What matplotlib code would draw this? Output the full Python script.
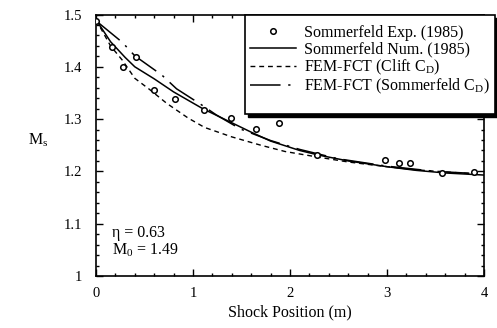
import matplotlib as mpl
mpl.use('Agg')
import matplotlib.pyplot as plt
from matplotlib.patches import Rectangle
from matplotlib.ticker import MultipleLocator

# Sommerfeld experiment (1985)
exp_x = [0.0, 0.16, 0.28, 0.41, 0.60, 0.81, 1.11, 1.39, 1.65, 1.89,
         2.28, 2.98, 3.12, 3.24, 3.57, 3.90]
exp_y = [1.487, 1.438, 1.399, 1.418, 1.356, 1.338, 1.317, 1.303, 1.282, 1.292,
         1.231, 1.222, 1.217, 1.217, 1.196, 1.198]

# Sommerfeld numerical (1985)
num_x = [0.0, 0.15, 0.3, 0.4, 0.6, 0.8, 1.1, 1.4, 1.6, 1.8, 2.1, 2.3,
         2.6, 3.0, 3.3, 3.6, 4.0]
num_y = [1.49, 1.448, 1.418, 1.400, 1.377, 1.352, 1.320, 1.293, 1.275, 1.258,
         1.240, 1.231, 1.220, 1.209, 1.202, 1.197, 1.193]

# FEM-FCT, Clift drag
clift_x = [0.0, 0.15, 0.27, 0.4, 0.55, 0.73, 0.95, 1.12, 1.4, 1.7, 1.95,
           2.3, 2.6, 3.0, 3.3, 3.6, 3.85]
clift_y = [1.49, 1.44, 1.413, 1.378, 1.357, 1.330, 1.302, 1.284, 1.266, 1.250,
           1.238, 1.227, 1.218, 1.209, 1.203, 1.199, 1.196]

# FEM-FCT, Sommerfeld drag
somm_x = [0.0, 0.27, 0.4, 0.68, 0.83, 1.09, 1.24, 1.49, 1.8, 2.1, 2.5,
          3.0, 3.5, 3.9]
somm_y = [1.488, 1.447, 1.421, 1.384, 1.358, 1.327, 1.308, 1.281, 1.259, 1.242,
          1.224, 1.210, 1.200, 1.196]

labels = ['Sommerfeld Exp. (1985)', 'Sommerfeld Num. (1985)',
          r'FEM-FCT (Clift C$_\mathregular{D}$)',
          r'FEM-FCT (Sommerfeld C$_\mathregular{D}$)']

plt.rcParams['font.family'] = ['Liberation Serif', 'DejaVu Serif']
plt.rcParams['mathtext.fontset'] = 'custom'
plt.rcParams['mathtext.rm'] = 'Liberation Serif'

W, H = 497, 328
fig = plt.figure(figsize=(W / 100, H / 100), dpi=100)
ax = fig.add_axes([96 / W, 1 - 276 / H, 388 / W, 261.5 / H])

ax.plot(exp_x, exp_y, 'o', ms=4, mfc='white', mec='k', mew=1.1,
        label=labels[0], zorder=4)
ax.plot(num_x, num_y, 'k-', lw=1.1, label=labels[1])
ax.plot(clift_x, clift_y, 'k', lw=1.0, dashes=(3.5, 2.8), label=labels[2])
ax.plot(somm_x, somm_y, 'k', lw=1.1, dashes=(20, 5, 1.5, 5), label=labels[3])

ax.set_xlim(0, 4)
ax.set_ylim(1, 1.5)
ax.set_xticks([0, 1, 2, 3, 4])
ax.set_yticks([1, 1.1, 1.2, 1.3, 1.4, 1.5])
ax.set_yticklabels(['1', '1.1', '1.2', '1.3', '1.4', '1.5'])
ax.xaxis.set_minor_locator(MultipleLocator(0.2))
ax.yaxis.set_minor_locator(MultipleLocator(0.02))
ax.tick_params(which='both', direction='in', top=True, right=True,
               labelsize=10.5, width=1)
ax.tick_params(which='major', length=5)
ax.tick_params(which='minor', length=2.5)
ax.tick_params(axis='x', pad=8)
ax.tick_params(axis='y', pad=10)
for s in ax.spines.values():
    s.set_linewidth(1.2)

ax.set_xlabel('Shock Position (m)', fontsize=11.5, labelpad=3)
fig.text(38 / W, 1 - 140 / H, r'M$_\mathregular{s}$', fontsize=11.5,
         ha='center', va='center')

ax.text(0.17, 1.097, 'η = 0.63\nM$_\\mathregular{0}$ = 1.49', fontsize=11.5,
        va='top', ha='left', linespacing=1.0)

# legend box with a solid drop shadow
bx0, by0, bx1, by1 = 245, 15, 495, 114
shadow = Rectangle((bx0 / W + 3 / W, 1 - by1 / H - 3 / H),
                   (bx1 - bx0) / W, (by1 - by0) / H,
                   transform=fig.transFigure, facecolor='k', edgecolor='k',
                   zorder=5)
box = Rectangle((bx0 / W, 1 - by1 / H), (bx1 - bx0) / W, (by1 - by0) / H,
                transform=fig.transFigure, facecolor='white', edgecolor='k',
                lw=1.2, zorder=6)
fig.patches.extend([shadow, box])

leg = ax.legend(loc='upper left', bbox_to_anchor=(250 / W, 1 - 25 / H),
                bbox_transform=fig.transFigure, frameon=False, fontsize=11.5,
                borderpad=0, labelspacing=0.02, handlelength=2.9,
                handletextpad=0.5, borderaxespad=0)
leg.set_zorder(7)
fig.legends.append(leg)
ax.get_legend().remove()

fig.savefig('out.png', dpi=100)
